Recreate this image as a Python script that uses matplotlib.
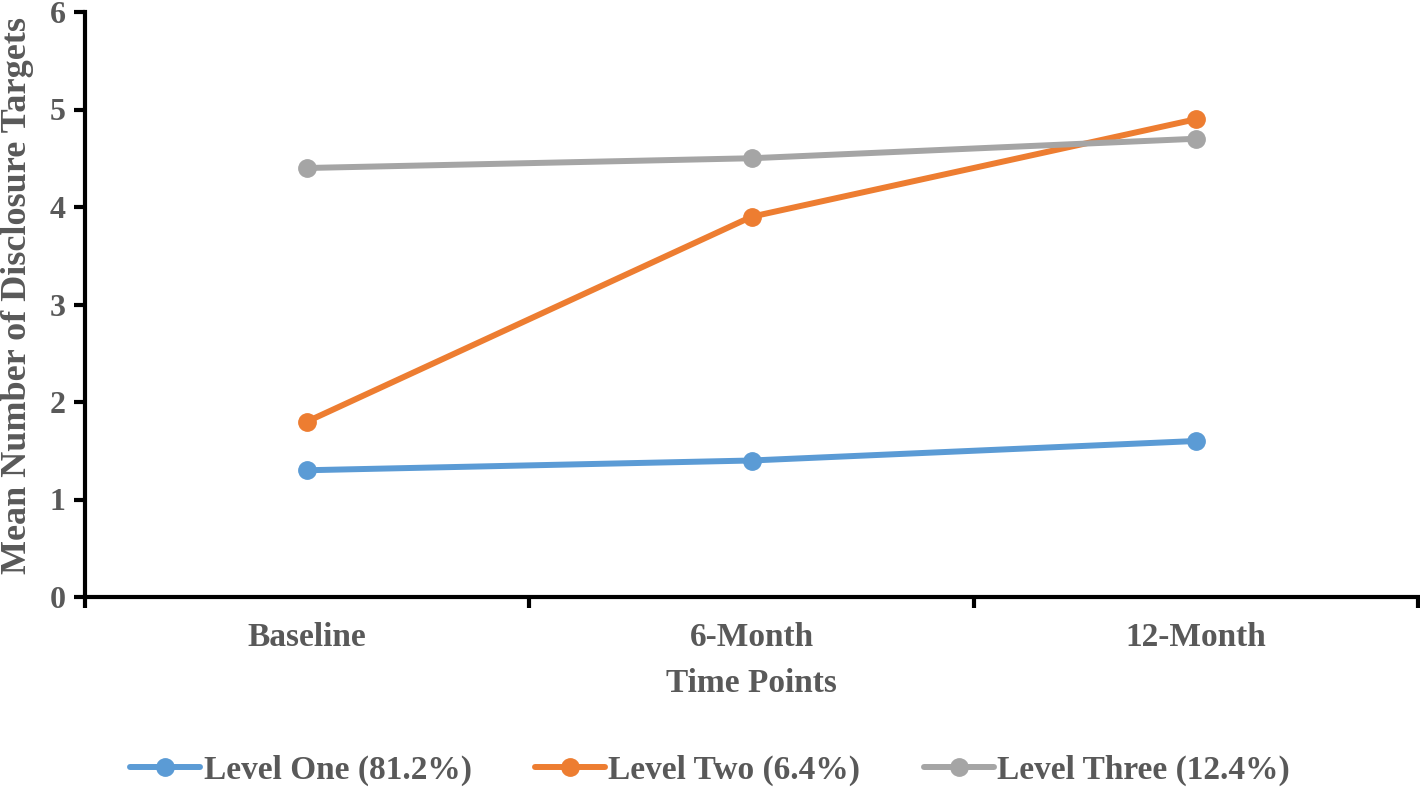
import matplotlib
matplotlib.use("Agg")
import matplotlib.pyplot as plt

categories = ["Baseline", "6-Month", "12-Month"]
level_one = [1.3, 1.4, 1.6]
level_two = [1.8, 3.9, 4.9]
level_three = [4.4, 4.5, 4.7]
series_names = ["Level One (81.2%)", "Level Two (6.4%)", "Level Three (12.4%)"]
colors = ["#5B9BD5", "#ED7D31", "#A5A5A5"]
yticks = [0, 1, 2, 3, 4, 5, 6]

plt.rcParams['font.family'] = ['Liberation Serif', 'DejaVu Serif']
plt.rcParams['font.weight'] = 'bold'
txt = "#595959"

fig = plt.figure(figsize=(14.2, 7.87), dpi=100)
ax = fig.add_axes([85/1420, 1-597/787, (1418-85)/1420, (597-12)/787])

x = list(range(len(categories)))
for vals, name, c in zip([level_one, level_two, level_three], series_names, colors):
    ax.plot(x, vals, color=c, lw=4.3, marker='o', ms=12.5, label=name,
            solid_capstyle='round')

ax.set_xlim(-0.5, len(categories) - 0.5)
ax.set_ylim(0, 6)
ax.set_yticks(yticks)
ax.set_yticklabels([str(v) for v in yticks], fontsize=23, fontweight='bold', color=txt)
ax.set_xticks([i - 0.5 for i in range(len(categories) + 1)])
ax.set_xticklabels([])
ax.set_xticks(x, minor=True)
ax.set_xticklabels(categories, minor=True, fontsize=24, fontweight='bold', color=txt)
ax.tick_params(axis='x', which='minor', length=0, pad=18)
ax.tick_params(axis='x', which='major', length=8, width=3, color='black', direction='out')
ax.tick_params(axis='y', length=8, width=3, color='black', direction='out', pad=6)

for s in ['top', 'right']:
    ax.spines[s].set_visible(False)
for s in ['left', 'bottom']:
    ax.spines[s].set_linewidth(3)
    ax.spines[s].set_color('black')

ax.set_xlabel("Time Points", fontsize=24, fontweight='bold', color=txt, labelpad=11)
ax.set_ylabel("Mean Number of Disclosure Targets", fontsize=26, fontweight='bold', color=txt)
ax.yaxis.set_label_coords(-0.0385, 0.516)

leg = fig.legend(loc='center', bbox_to_anchor=(0.5, 1-770/787), ncol=3, frameon=False,
                 fontsize=24, handlelength=2.1, columnspacing=1.9, handletextpad=0.1)
for t in leg.get_texts():
    t.set_color(txt)
    t.set_fontweight('bold')

fig.savefig("out.png", dpi=100)
